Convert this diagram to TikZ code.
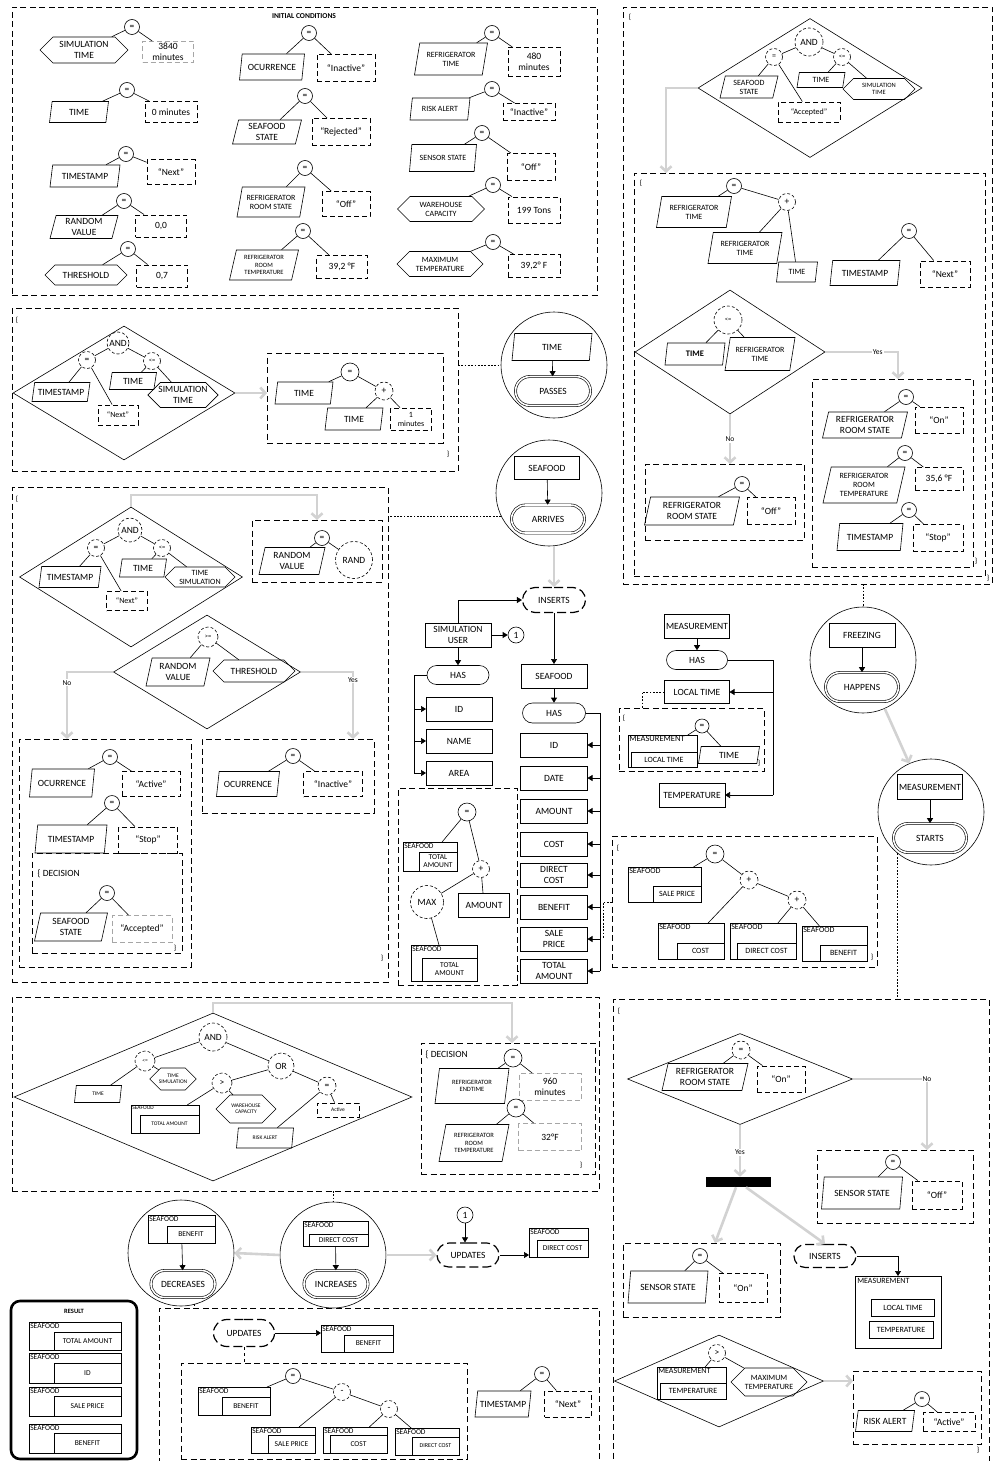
\documentclass[tikz,border=0pt]{standalone}
\usepackage{fontspec}
\setmainfont{Carlito}
\usetikzlibrary{shapes.geometric,shapes.misc,shapes.symbols,arrows.meta}

\tikzset{
  sz/.style 2 args={minimum width=#1pt,minimum height=#2pt},
  ent/.style={draw,rectangle,inner sep=1pt,outer sep=0pt,align=center},
  para/.style={draw,trapezium,trapezium left angle=72,trapezium right angle=108,
    trapezium stretches body,inner xsep=-4pt,inner ysep=1pt,align=center},
  hexa/.style={draw,signal,signal to=east and west,inner xsep=-2pt,inner ysep=1pt,align=center},
  val/.style={draw,dash pattern=on 5pt off 3pt,line width=0.9pt,inner sep=1pt,align=center},
  valg/.style={val,draw=gray!70},
  op/.style={draw,circle,inner sep=0pt,minimum size=#1pt},
  op/.default=15,
  opd/.style={op=#1,densely dashed},
  opd/.default=17,
  dia/.style={draw,diamond,inner sep=0pt},
  cont/.style={draw,dash pattern=on 6pt off 3.5pt,line width=0.9pt,inner sep=0pt,outer sep=0pt},
  has/.style={draw,rounded rectangle,inner sep=1pt},
  evt/.style={draw,rounded rectangle,double,double distance=1.6pt,inner sep=1pt},
  act/.style={draw,rounded rectangle,line width=1.2pt,dash pattern=on 9pt off 4pt,inner sep=1pt},
  ring/.style={draw,circle,minimum size=106pt,inner sep=0pt},
  garrow/.style={draw=gray!35,line width=2.6pt,-{Straight Barb[length=5pt,width=11pt]}},
  barr/.style={-{Triangle[length=5pt,width=6pt]}},
  dots/.style={dash pattern=on 1.8pt off 1.5pt},
  lbl/.style={fill=white,inner sep=1pt,font=\fontsize{7.5}{8.5}\selectfont},
  brace/.style={inner sep=0pt,font=\fontsize{7.5}{8.5}\selectfont},
  fs/.style={font=\fontsize{8}{9}\selectfont},
  ft/.style={font=\fontsize{6.5}{7.5}\selectfont},
  fx/.style={font=\fontsize{5.5}{6}\selectfont},
  ctitle/.style={inner sep=1pt,font=\fontsize{7.5}{8}\selectfont},
  cfont/.style={font=\fontsize{7.5}{8}\selectfont},
}

% dashed block from its corners
\newcommand{\contbox}[5]{\node[cont,minimum width={#4pt-#2pt},minimum height={#5pt-#3pt}] (#1) at ({(#2+#4)/2},{(#3+#5)/2}) {};}
% entity with one attribute box in its lower right corner
\newcommand{\cpd}[9]{%
  \node[ent,minimum width={#4pt-#2pt},minimum height={#5pt-#3pt}] (#1) at ({(#2+#4)/2},{(#3+#5)/2}) {};
  \node[ctitle,anchor=north west] (#1-t) at (#1.north west) {#8};
  \node[ent,cfont,minimum width={#4pt-#6pt},minimum height={#5pt-#7pt},anchor=south east] (#1-in) at (#1.south east) {#9};}

\begin{document}
\begin{tikzpicture}[x=1pt,y=-1pt,font=\fontsize{9.5}{10.5}\selectfont,line width=0.6pt]
\path[fill=white,use as bounding box] (0,0) rectangle (994,1461);

% initial conditions
\contbox{ic}{12}{7}{597}{295}
\node[font=\bfseries\fontsize{7.5}{8.5}\selectfont] (ictitle) at (304,16) {INITIAL CONDITIONS};
\node[hexa,sz={88}{26}] (icL1) at (84,50) {SIMULATION\\TIME};
\node[op] (icE1) at (132,27) {=};
\node[valg,sz={51}{21}] (icR1) at (168,52) {3840\\minutes};
\node[para,sz={59}{21}] (icL2) at (79,112) {TIME};
\node[op] (icE2) at (127,90) {=};
\node[val,sz={52}{21}] (icR2) at (171,112) {0 minutes};
\node[para,sz={70}{22}] (icL3) at (85,176) {TIMESTAMP};
\node[op] (icE3) at (126,154) {=};
\node[val,sz={48}{25}] (icR3) at (171,172) {“Next”};
\node[para,sz={68}{23}] (icL4) at (84,227) {RANDOM\\VALUE};
\node[op] (icE4) at (124,201) {=};
\node[val,sz={51}{22}] (icR4) at (161,226) {0,0};
\node[hexa,sz={82}{20}] (icL5) at (86,275) {THRESHOLD};
\node[op] (icE5) at (128,249) {=};
\node[val,sz={51}{22}] (icR5) at (162,276) {0,7};
\node[para,sz={65}{26}] (icL6) at (272,67) {OCURRENCE};
\node[op] (icE6) at (309,33) {=};
\node[val,sz={58}{27}] (icR6) at (346,68) {“Inactive”};
\node[para,sz={69}{24}] (icL7) at (267,132) {SEAFOOD\\STATE};
\node[op] (icE7) at (305,96) {=};
\node[val,sz={58}{27}] (icR7) at (341,132) {“Rejected”};
\node[para,sz={68}{30},fs] (icL8) at (271,202) {REFRIGERATOR\\ROOM STATE};
\node[op] (icE8) at (305,168) {=};
\node[val,sz={48}{25}] (icR8) at (346,204) {“Off”};
\node[para,sz={69}{30},ft] (icL9) at (264,265) {REFRIGERATOR\\ROOM\\TEMPERATURE};
\node[op] (icE9) at (303,231) {=};
\node[val,sz={51}{23}] (icR9) at (342,267) {39,2 °F};
\node[para,sz={73}{32},fs] (icL10) at (451,59) {REFRIGERATOR\\TIME};
\node[op] (icE10) at (492,33) {=};
\node[val,sz={52}{29}] (icR10) at (534,62) {480\\minutes};
\node[para,sz={60}{22},fs] (icL11) at (440,109) {RISK ALERT};
\node[op] (icE11) at (492,89) {=};
\node[val,sz={52}{17}] (icR11) at (529,112) {“Inactive”};
\node[para,sz={67}{27},fs] (icL12) at (443,158) {SENSOR STATE};
\node[op] (icE12) at (482,133) {=};
\node[val,sz={48}{27}] (icR12) at (531,167) {“Off”};
\node[hexa,sz={87}{25},fs] (icL13) at (441,209) {WAREHOUSE\\CAPACITY};
\node[op] (icE13) at (493,185) {=};
\node[val,sz={52}{26}] (icR13) at (534,210) {199 Tons};
\node[hexa,sz={86}{25},fs] (icL14) at (440,264) {MAXIMUM\\TEMPERATURE};
\node[op] (icE14) at (493,242) {=};
\node[val,sz={52}{23}] (icR14) at (534,266) {39,2° F};
\foreach \i in {1,...,14} {\draw (icE\i) -- (icL\i); \draw (icE\i) -- (icR\i);}

% refrigerator block
\contbox{tro}{623}{7}{992}{584}
\node[brace] (trob) at (630,17) {\{};
\node[brace] (troc) at (988,578) {\}};
\node[dia,sz={224}{139}] (d1) at (810,88) {};
\node[opd=28] (d1and) at (809,42) {AND};
\node[opd,fs] (d1eq) at (774,57) {=};
\node[opd,ft] (d1le) at (842,57) {<=};
\node[para,sz={58}{22},fs] (d1ss) at (749,87) {SEAFOOD\\STATE};
\node[val,sz={62}{20},fs] (d1acc) at (809,112) {“Accepted”};
\node[para,sz={48}{15},fs] (d1tm) at (821,80) {TIME};
\node[hexa,sz={72}{21},ft] (d1st) at (879,89) {SIMULATION\\TIME};
\draw (d1and) -- (d1eq); \draw (d1and) -- (d1le);
\draw (d1eq) -- (d1ss); \draw (d1eq) -- (d1acc);
\draw (d1le) -- (d1tm); \draw (d1le) -- (d1st);
\contbox{tri}{634}{173}{985}{576}
\coordinate (triTop) at (666,173);
\draw[garrow] (d1.west) -| (triTop);
\node[brace] (trib) at (641,183) {\{};
\node[op] (t1e) at (734,186) {=};
\node[para,sz={75}{31},fs] (t1l) at (694,212) {REFRIGERATOR\\TIME};
\node[opd] (t1p) at (787,202) {+};
\node[para,sz={74}{31},fs] (t1a) at (745,248) {REFRIGERATOR\\TIME};
\node[para,sz={41}{20},fs] (t1b) at (797,272) {TIME};
\draw (t1e) -- (t1l); \draw (t1e) -- (t1p);
\draw (t1p) -- (t1a); \draw (t1p) -- (t1b);
\node[op] (t2e) at (909,231) {=};
\node[para,sz={70}{25}] (t2l) at (865,273) {TIMESTAMP};
\node[val,sz={50}{26}] (t2r) at (945,274) {“Next”};
\draw (t2e) -- (t2l); \draw (t2e) -- (t2r);
\node[dia,sz={190}{124}] (d2) at (730,352) {};
\node[opd=28,ft] (d2le) at (728,320) {<=};
\node[para,sz={60}{22},font=\bfseries\fontsize{8.5}{9.5}\selectfont] (d2tm) at (695,354) {TIME};
\node[para,sz={70}{33},fs] (d2rt) at (760,354) {REFRIGERATOR\\TIME};
\draw (d2le) -- (d2tm); \draw (d2le) -- (d2rt);
\coordinate (yesTop) at (898,379);
\coordinate (noTop) at (730,464);
\draw[garrow] (d2.east) -| node[lbl,pos=0.36] (d2yes) {Yes} (yesTop);
\draw[garrow] (d2.south) -- node[lbl] (d2no) {No} (noTop);
\contbox{tno}{645}{464}{804}{540}
\node[op] (tE3) at (742,484) {=};
\node[para,sz={95}{28}] (tL3) at (692,511) {REFRIGERATOR\\ROOM STATE};
\node[val,sz={48}{27}] (tR3) at (771,511) {“Off”};
\contbox{tyes}{812}{379}{973}{567}
\node[op] (tE4) at (906,397) {=};
\node[para,sz={85}{26}] (tL4) at (865,425) {REFRIGERATOR\\ROOM STATE};
\node[val,sz={48}{26}] (tR4) at (939,420) {“On”};
\node[op] (tE5) at (905,453) {=};
\node[para,sz={82}{36},fs] (tL5) at (864,485) {REFRIGERATOR\\ROOM\\TEMPERATURE};
\node[val,sz={48}{23}] (tR5) at (939,479) {35,6 °F};
\node[op] (tE6) at (909,510) {=};
\node[para,sz={66}{27}] (tL6) at (870,537) {TIMESTAMP};
\node[val,sz={50}{27}] (tR6) at (938,538) {“Stop”};
\node[brace] (tyesc) at (976,561) {\}};
\foreach \i in {3,...,6} {\draw (tE\i) -- (tL\i); \draw (tE\i) -- (tR\i);}

% time passes
\contbox{tp}{12}{308}{458}{471}
\node[brace] (tpbr) at (17,320) {\{};
\node[brace] (tpcr) at (448,454) {\}};
\node[dia,sz={222}{134}] (d3) at (124,393) {};
\node[opd=22] (d3and) at (118,343) {AND};
\node[opd] (d3eq) at (87,360) {=};
\node[opd,ft] (d3le) at (152,361) {<=};
\node[para,sz={58}{19}] (d3ts) at (61,392) {TIMESTAMP};
\node[val,sz={40}{20},fs] (d3nx) at (118,415) {“Next”};
\node[para,sz={47}{17}] (d3tm) at (133,381) {TIME};
\node[hexa,sz={70}{25}] (d3st) at (183,395) {SIMULATION\\TIME};
\draw (d3and) -- (d3eq); \draw (d3and) -- (d3le);
\draw (d3eq) -- (d3ts); \draw (d3eq) -- (d3nx);
\draw (d3le) -- (d3tm); \draw (d3le) -- (d3st);
\contbox{tpi}{267}{353}{443}{443}
\draw[garrow] (d3.east) -- (d3.east -| tpi.west);
\node[op=18] (tpe) at (350,372) {=};
\node[para,sz={58}{22}] (tpl) at (304,393) {TIME};
\node[opd=18] (tpp) at (384,391) {+};
\node[para,sz={58}{22}] (tpa) at (354,419) {TIME};
\node[val,sz={41}{22},fs] (tpv) at (411,419) {1\\minutes};
\draw (tpe) -- (tpl); \draw (tpe) -- (tpp);
\draw (tpp) -- (tpa); \draw (tpp) -- (tpv);
\node[ring] (ring1) at (554,365) {};
\node[para,sz={80}{27}] (r1a) at (552,347) {TIME};
\node[evt,sz={77}{29}] (r1b) at (553,391) {PASSES};
\draw[barr] (r1a) -- (r1b);
\draw[dots] (tp.east |- ring1.west) -- (ring1.west);

% seafood arrives
\node[ring] (ring2) at (549,493) {};
\node[ent,sz={65}{23}] (r2a) at (547,468) {SEAFOOD};
\node[evt,sz={75}{28}] (r2b) at (548,519) {ARRIVES};
\draw[barr] (r2a) -- (r2b);

% ocurrence decision
\contbox{oc}{12}{487}{388}{982}
\draw[dots] (ring2.206) -- (ring2.206 -| oc.east);
\node[brace] (ocbr) at (17,499) {\{};
\node[brace] (occr) at (382,958) {\}};
\node[dia,sz={223}{140}] (d4) at (131,577) {};
\node[opd=24] (d4and) at (130,530) {AND};
\node[opd] (d4eq) at (96,548) {=};
\node[opd,ft] (d4le) at (162,548) {<=};
\node[para,sz={62}{21}] (d4ts) at (70,577) {TIMESTAMP};
\node[val,sz={41}{19},fs] (d4nx) at (127,601) {“Next”};
\node[para,sz={47}{18}] (d4tm) at (143,568) {TIME};
\node[hexa,sz={70}{20},fs] (d4st) at (200,577) {TIME\\SIMULATION};
\draw (d4and) -- (d4eq); \draw (d4and) -- (d4le);
\draw (d4eq) -- (d4ts); \draw (d4eq) -- (d4nx);
\draw (d4le) -- (d4tm); \draw (d4le) -- (d4st);
\contbox{rnd}{252}{520}{382}{582}
\coordinate (d4up) at (131,495);
\draw[garrow] (d4.north) -- (d4up) -| (rnd.north);
\node[op] (rnde) at (322,538) {=};
\node[para,sz={66}{27}] (rndl) at (292,561) {RANDOM\\VALUE};
\node[opd=37] (rndr) at (354,560) {RAND};
\draw (rnde) -- (rndl); \draw (rnde) -- (rndr);
\node[dia,sz={187}{114}] (d5) at (207,672) {};
\node[opd=20,ft] (d5ge) at (208,637) {>=};
\node[para,sz={64}{28}] (d5rv) at (178,672) {RANDOM\\VALUE};
\node[hexa,sz={82}{22}] (d5th) at (254,671) {THRESHOLD};
\draw (d5ge) -- (d5rv); \draw (d5ge) -- (d5th);
\coordinate (ocNo) at (67,739);
\coordinate (ocYes) at (353,739);
\draw[garrow] (d5.west) -| node[lbl,pos=0.58] (d5no) {No} (ocNo);
\draw[garrow] (d5.east) -| node[lbl,pos=0.56] (d5yes) {Yes} (ocYes);
\contbox{ocn}{19}{739}{191}{967}
\node[op] (oE1) at (110,757) {=};
\node[para,sz={65}{28}] (oL1) at (62,783) {OCURRENCE};
\node[val,sz={58}{25}] (oR1) at (151,784) {“Active”};
\node[op] (oE2) at (112,803) {=};
\node[para,sz={72}{28}] (oL2) at (71,839) {TIMESTAMP};
\node[val,sz={59}{26}] (oR2) at (148,840) {“Stop”};
\contbox{ocd}{32}{853}{182}{953}
\node[anchor=west] (ocdt) at (34,874) {\{ DECISION};
\node[brace] (ocdc) at (175,948) {\}};
\node[op] (oE3) at (107,893) {=};
\node[para,sz={73}{28}] (oL3) at (71,927) {SEAFOOD\\STATE};
\node[valg,sz={60}{27}] (oR3) at (142,929) {“Accepted”};
\contbox{ocy}{202}{739}{374}{813}
\node[op] (oE4) at (293,756) {=};
\node[para,sz={63}{25}] (oL4) at (248,784) {OCURRENCE};
\node[val,sz={59}{25}] (oR4) at (333,784) {“Inactive”};
\foreach \i in {1,...,4} {\draw (oE\i) -- (oL\i); \draw (oE\i) -- (oR\i);}

% user and seafood
\node[act,sz={65}{25}] (ins1) at (554,600) {INSERTS};
\draw[garrow] (ins1.north |- ring2.south) -- (ins1.north);
\node[ent,sz={66}{24}] (su) at (458,635) {SIMULATION\\USER};
\draw[barr] (su.north) |- (ins1.west);
\node[op=16] (num1) at (516,635) {1};
\draw[barr] (su.east) -- (num1);
\node[has,sz={64}{19}] (has1) at (458,675) {HAS};
\draw[barr] (su) -- (has1);
\node[ent,sz={66}{24}] (uid) at (459,709) {ID};
\node[ent,sz={66}{24}] (uname) at (459,741) {NAME};
\node[ent,sz={66}{24}] (uarea) at (459,773) {AREA};
\coordinate (hb1) at (414,675);
\draw (has1.west) -- (hb1) -- (hb1 |- uarea);
\foreach \n in {uid,uname,uarea} \draw[barr] (hb1 |- \n) -- (\n.west);
\node[ent,sz={66}{24}] (sf) at (554,676) {SEAFOOD};
\draw[barr] (ins1) -- (sf);
\node[has,sz={65}{20}] (has2) at (554,713) {HAS};
\draw[barr] (sf) -- (has2);
\node[ent,sz={67}{24}] (sid) at (554,745) {ID};
\node[ent,sz={67}{24}] (sdate) at (554,778) {DATE};
\node[ent,sz={67}{24}] (samt) at (554,811) {AMOUNT};
\node[ent,sz={67}{24}] (scost) at (554,844) {COST};
\node[ent,sz={67}{24}] (sdc) at (554,875) {DIRECT\\COST};
\node[ent,sz={67}{24}] (sben) at (554,907) {BENEFIT};
\node[ent,sz={67}{24}] (ssp) at (554,939) {SALE\\PRICE};
\node[ent,sz={67}{24}] (sta) at (554,971) {TOTAL\\AMOUNT};
\coordinate (hb2) at (600,713);
\draw (has2.east) -- (hb2) -- (hb2 |- sta);
\foreach \n in {sid,sdate,samt,scost,sdc,sben,ssp,sta} \draw[barr] (hb2 |- \n) -- (\n.east);

% total amount
\contbox{mx}{398}{788}{517}{985}
\draw[dots] (mx.east |- sta) -- (sta.west);
\node[op=18] (mxe) at (467,812) {=};
\cpd{mxa}{403}{842}{457}{871}{419}{852}{SEAFOOD}{TOTAL\\AMOUNT}
\node[opd] (mxp) at (481,869) {+};
\node[opd=33] (mxm) at (427,902) {MAX};
\node[ent,sz={51}{24}] (mxb) at (484,905) {AMOUNT};
\cpd{mxc}{411}{945}{477}{981}{422}{958}{SEAFOOD}{TOTAL\\AMOUNT}
\draw (mxe) -- (mxa); \draw (mxe) -- (mxp);
\draw (mxp) -- (mxm); \draw (mxp) -- (mxb); \draw (mxm) -- (mxc);

% measurement
\node[ent,sz={65}{24}] (ms) at (697,626) {MEASUREMENT};
\node[has,sz={63}{19}] (has3) at (697,660) {HAS};
\draw[barr] (ms) -- (has3);
\node[ent,sz={65}{23}] (mlt) at (697,692) {LOCAL TIME};
\node[ent,sz={66}{24}] (mtp) at (692,795) {TEMPERATURE};
\coordinate (hb3) at (773,660);
\draw (has3.east) -- (hb3) -- (hb3 |- mtp);
\draw[barr] (hb3 |- mlt) -- (mlt.east);
\draw[barr] (hb3 |- mtp) -- (mtp.east);
\contbox{lt}{619}{708}{764}{771}
\coordinate (ltd) at (642,708);
\draw[dots] (mlt.west) -| (ltd);
\node[brace] (ltbr) at (624,718) {\{};
\node[brace] (ltcr) at (759,763) {\}};
\node[op=14] (lte) at (702,726) {=};
\begin{scope}[ctitle/.append style={font=\fontsize{8.5}{9}\selectfont},cfont/.style={font=\fontsize{8}{8.5}\selectfont}]
\cpd{lta}{628}{735}{697}{767}{631}{752}{MEASUREMENT}{LOCAL TIME}
\end{scope}
\node[para,sz={61}{17}] (ltr) at (729,755) {TIME};
\draw (lte) -- (lta); \draw (lte) -- (ltr);

% sale price
\contbox{sp}{612}{836}{877}{967}
\coordinate (spDot) at (603,902);
\draw[dots] (spDot -| sp.west) -- (spDot) -- (spDot |- ssp);
\node[brace] (spbr) at (618,848) {\{};
\node[brace] (spcr) at (872,957) {\}};
\node[op=18] (spe) at (715,854) {=};
\begin{scope}[ctitle/.append style={font=\fontsize{8}{9}\selectfont},cfont/.style={font=\fontsize{8}{8.5}\selectfont}]
\cpd{spA}{628}{867}{701}{902}{653}{886}{SEAFOOD}{SALE PRICE}
\cpd{spB}{658}{923}{724}{959}{677}{943}{SEAFOOD}{COST}
\cpd{spC}{730}{923}{796}{959}{737}{943}{SEAFOOD}{DIRECT COST}
\cpd{spD}{802}{926}{867}{961}{820}{945}{SEAFOOD}{BENEFIT}
\end{scope}
\node[opd=18] (spp1) at (749,880) {+};
\node[opd=18] (spp2) at (797,900) {+};
\draw (spe) -- (spA); \draw (spe) -- (spp1);
\draw (spp1) -- (spB); \draw (spp1) -- (spp2);
\draw (spp2) -- (spC); \draw (spp2) -- (spD);

% freezing happens, measurement starts
\node[ring] (ring3) at (863,660) {};
\node[ent,sz={66}{24}] (frz) at (862,635) {FREEZING};
\node[evt,sz={75}{29}] (hap) at (862,687) {HAPPENS};
\draw[barr] (frz) -- (hap);
\draw[dots] (ring3.north |- tro.south) -- (ring3.north);
\node[ring] (ring4) at (931,812) {};
\node[ent,sz={65}{25}] (ms2) at (930,787) {MEASUREMENT};
\node[evt,sz={75}{29}] (sts) at (930,838) {STARTS};
\draw[barr] (ms2) -- (sts);
\draw[garrow] (ring3) -- (ring4);

% sensor block
\contbox{br}{613}{999}{989}{1475}
\draw[dots] (ring4.231) -- (ring4.231 |- br.north);
\node[brace] (brbr) at (619,1011) {\{};
\node[dia,sz={225}{91}] (d6) at (740,1079) {};
\node[opd=18] (d6eq) at (741,1050) {=};
\node[para,sz={86}{27}] (d6l) at (705,1077) {REFRIGERATOR\\ROOM STATE};
\node[val,sz={48}{26}] (d6r) at (781,1079) {“On”};
\draw (d6eq) -- (d6l); \draw (d6eq) -- (d6r);
\node[fill=black,inner sep=0pt,sz={65}{10}] (bar) at (738,1182) {};
\coordinate (brNo) at (927,1150);
\draw[garrow] (d6.east) -| node[lbl,pos=0.5] (d6no) {No} (brNo);
\draw[garrow] (d6.south) -- node[lbl,pos=0.53] (d6yes) {Yes} (d6.south |- bar.north);
\contbox{brf}{817}{1150}{973}{1223}
\node[op] (bE1) at (893,1162) {=};
\node[para,sz={81}{32}] (bL1) at (862,1193) {SENSOR STATE};
\node[val,sz={50}{28}] (bR1) at (937,1195) {“Off”};
\contbox{brn}{623}{1243}{780}{1317}
\node[op] (bE2) at (700,1256) {=};
\node[para,sz={80}{32}] (bL2) at (668,1287) {SENSOR STATE};
\node[val,sz={48}{29}] (bR2) at (743,1288) {“On”};
\foreach \i in {1,2} {\draw (bE\i) -- (bL\i); \draw (bE\i) -- (bR\i);}
\node[act,sz={64}{23}] (ins2) at (825,1256) {INSERTS};
\coordinate (brOn) at (715,1243);
\draw[garrow] ([xshift=-2pt]bar.south) -- (brOn);
\draw[garrow] ([xshift=8pt]bar.south) -- (ins2.north);
\node[ent,sz={86}{72}] (msb) at (898,1312) {};
\node[anchor=north west,inner sep=2pt,fs] (msbt) at (msb.north west) {MEASUREMENT};
\node[ent,sz={63}{17},fs] (msb1) at (903,1308) {LOCAL TIME};
\node[ent,sz={64}{17},fs] (msb2) at (901,1330) {TEMPERATURE};
\draw[barr] (ins2.east) -| (msb.north);
\node[dia,sz={209}{92}] (d7) at (719,1381) {};
\node[opd] (d7gt) at (717,1353) {>};
\begin{scope}[ctitle/.append style={font=\fontsize{8}{9}\selectfont},cfont/.style={font=\fontsize{8}{8.5}\selectfont}]
\cpd{d7l}{657}{1367}{726}{1399}{660}{1383}{MEASUREMENT}{TEMPERATURE}
\end{scope}
\node[hexa,sz={76}{28},fs] (d7r) at (769,1382) {MAXIMUM\\TEMPERATURE};
\draw (d7gt) -- (d7l); \draw (d7gt) -- (d7r);
\contbox{rk}{853}{1371}{981}{1444}
\draw[garrow] (d7.east) -- (d7.east -| rk.west);
\node[op] (rkE) at (922,1399) {=};
\node[para,sz={59}{21}] (rkL) at (885,1421) {RISK ALERT};
\node[val,sz={52}{19}] (rkR) at (949,1422) {“Active”};
\draw (rkE) -- (rkL); \draw (rkE) -- (rkR);
\node[brace] (rkcr) at (978,1450) {\}};

% end of refrigeration
\contbox{ao}{12}{997}{599}{1191}
\node[dia,sz={398}{168}] (d8) at (213,1097) {};
\node[opd=28] (d8and) at (213,1037) {AND};
\node[opd=20,fx] (d8le) at (145,1061) {<=};
\node[opd=26] (d8or) at (281,1066) {OR};
\node[para,sz={47}{17},fx] (d8tm) at (98,1094) {TIME};
\node[hexa,sz={46}{22},fx] (d8ts) at (173,1079) {TIME\\SIMULATION};
\node[opd=20] (d8gt) at (222,1083) {>};
\begin{scope}[ctitle/.append style={font=\fontsize{5.5}{6}\selectfont},cfont/.style={font=\fontsize{5.5}{6}\selectfont}]
\cpd{d8sa}{131}{1105}{199}{1133}{140}{1115}{SEAFOOD}{TOTAL AMOUNT}
\end{scope}
\node[hexa,sz={60}{28},fx] (d8wc) at (246,1109) {WAREHOUSE\\CAPACITY};
\node[opd=18] (d8eq) at (327,1086) {=};
\node[para,sz={57}{20},fx] (d8ra) at (265,1138) {RISK ALERT};
\node[val,sz={42}{14},fx] (d8ac) at (338,1110) {Active};
\draw (d8and) -- (d8le); \draw (d8and) -- (d8or);
\draw (d8le) -- (d8tm); \draw (d8le) -- (d8ts);
\draw (d8or) -- (d8gt); \draw (d8or) -- (d8eq);
\draw (d8gt) -- (d8sa); \draw (d8gt) -- (d8wc);
\draw (d8eq) -- (d8ra); \draw (d8eq) -- (d8ac);
\contbox{dec}{421}{1043}{595}{1174}
\coordinate (d8up) at (213,1003);
\coordinate (decTop) at (512,1043);
\draw[garrow] (d8.north) -- (d8up) -| (decTop);
\node[anchor=west] (dect) at (422,1055) {\{ DECISION};
\node[brace] (deccr) at (581,1165) {\}};
\node[op=18] (dE1) at (513,1058) {=};
\node[para,sz={74}{35},ft] (dL1) at (472,1086) {REFRIGERATOR\\ENDTIME};
\node[valg,sz={62}{27}] (dR1) at (550,1087) {960\\minutes};
\node[op=18] (dE2) at (516,1108) {=};
\node[para,sz={70}{37},ft] (dL2) at (474,1143) {REFRIGERATOR\\ROOM\\TEMPERATURE};
\node[valg,sz={63}{27}] (dR2) at (550,1137) {32°F};
\foreach \i in {1,2} {\draw (dE\i) -- (dL\i); \draw (dE\i) -- (dR\i);}

% direct cost increases, benefit decreases
\node[ring] (ring6) at (333,1255) {};
\draw[dots] (ring6.north |- ao.south) -- (ring6.north);
\cpd{inA}{303}{1221}{368}{1246}{309}{1234}{SEAFOOD}{DIRECT COST}
\node[evt,sz={66}{27}] (inc) at (336,1284) {INCREASES};
\draw[barr] (inA) -- (inc);
\node[ring] (ring5) at (181,1253) {};
\cpd{deA}{148}{1215}{215}{1243}{167}{1226}{SEAFOOD}{BENEFIT}
\node[evt,sz={66}{27}] (dcr) at (183,1284) {DECREASES};
\draw[barr] (deA) -- (dcr);
\draw[garrow] (ring6.west) -- (ring5.east);
\node[act,sz={64}{24}] (upd1) at (468,1255) {UPDATES};
\draw[garrow] (ring6.east) -- (upd1.west);
\node[op=16] (num2) at (465,1215) {1};
\draw[barr] (num2) -- (num2 |- upd1.north);
\cpd{upA}{529}{1228}{588}{1257}{537}{1240}{SEAFOOD}{DIRECT COST}
\draw[barr] (upd1.east) -- (upd1.east -| upA.west);

% benefit update
\contbox{bm}{159}{1308}{599}{1475}
\draw[dots] (ring5.285) -- (ring5.285 |- bm.north);
\node[act,sz={63}{27}] (upd2) at (244,1333) {UPDATES};
\cpd{bmA}{321}{1325}{393}{1352}{344}{1335}{SEAFOOD}{BENEFIT}
\draw[barr] (upd2.east) -- (upd2.east -| bmA.west);
\contbox{bmf}{181}{1363}{467}{1459}
\draw[dashed] (upd2.south) -- (upd2.south |- bmf.north);
\node[op] (bmE) at (293,1376) {=};
\cpd{bmB}{198}{1387}{270}{1415}{222}{1397}{SEAFOOD}{BENEFIT}
\node[opd] (bmM1) at (342,1392) {-};
\node[opd] (bmM2) at (389,1409) {-};
\cpd{bmC}{251}{1427}{315}{1453}{268}{1435}{SEAFOOD}{SALE PRICE}
\cpd{bmD}{323}{1427}{387}{1453}{330}{1435}{SEAFOOD}{COST}
\begin{scope}[cfont/.style={font=\fontsize{6}{6.5}\selectfont}]
\cpd{bmF}{395}{1428}{459}{1455}{412}{1437}{SEAFOOD}{DIRECT COST}
\end{scope}
\draw (bmE) -- (bmB); \draw (bmE) -- (bmM1);
\draw (bmM1) -- (bmC); \draw (bmM1) -- (bmM2);
\draw (bmM2) -- (bmD); \draw (bmM2) -- (bmF);
\node[op] (bmE2) at (542,1374) {=};
\node[para,sz={56}{26}] (bmL2) at (503,1404) {TIMESTAMP};
\node[val,sz={47}{26}] (bmR2) at (568,1404) {“Next”};
\draw (bmE2) -- (bmL2); \draw (bmE2) -- (bmR2);

% result
\node[draw,rounded corners=9pt,line width=2.6pt,sz={126}{158}] (res) at (74,1380) {};
\node[font=\bfseries\fontsize{6.5}{7.5}\selectfont] (rest) at (74,1311) {RESULT};
\cpd{res1}{29}{1322}{121}{1350}{54}{1332}{SEAFOOD}{TOTAL AMOUNT}
\cpd{res2}{29}{1353}{121}{1383}{54}{1363}{SEAFOOD}{ID}
\cpd{res3}{29}{1387}{121}{1416}{54}{1396}{SEAFOOD}{SALE PRICE}
\cpd{res4}{29}{1424}{121}{1453}{54}{1433}{SEAFOOD}{BENEFIT}
\end{tikzpicture}
\end{document}
